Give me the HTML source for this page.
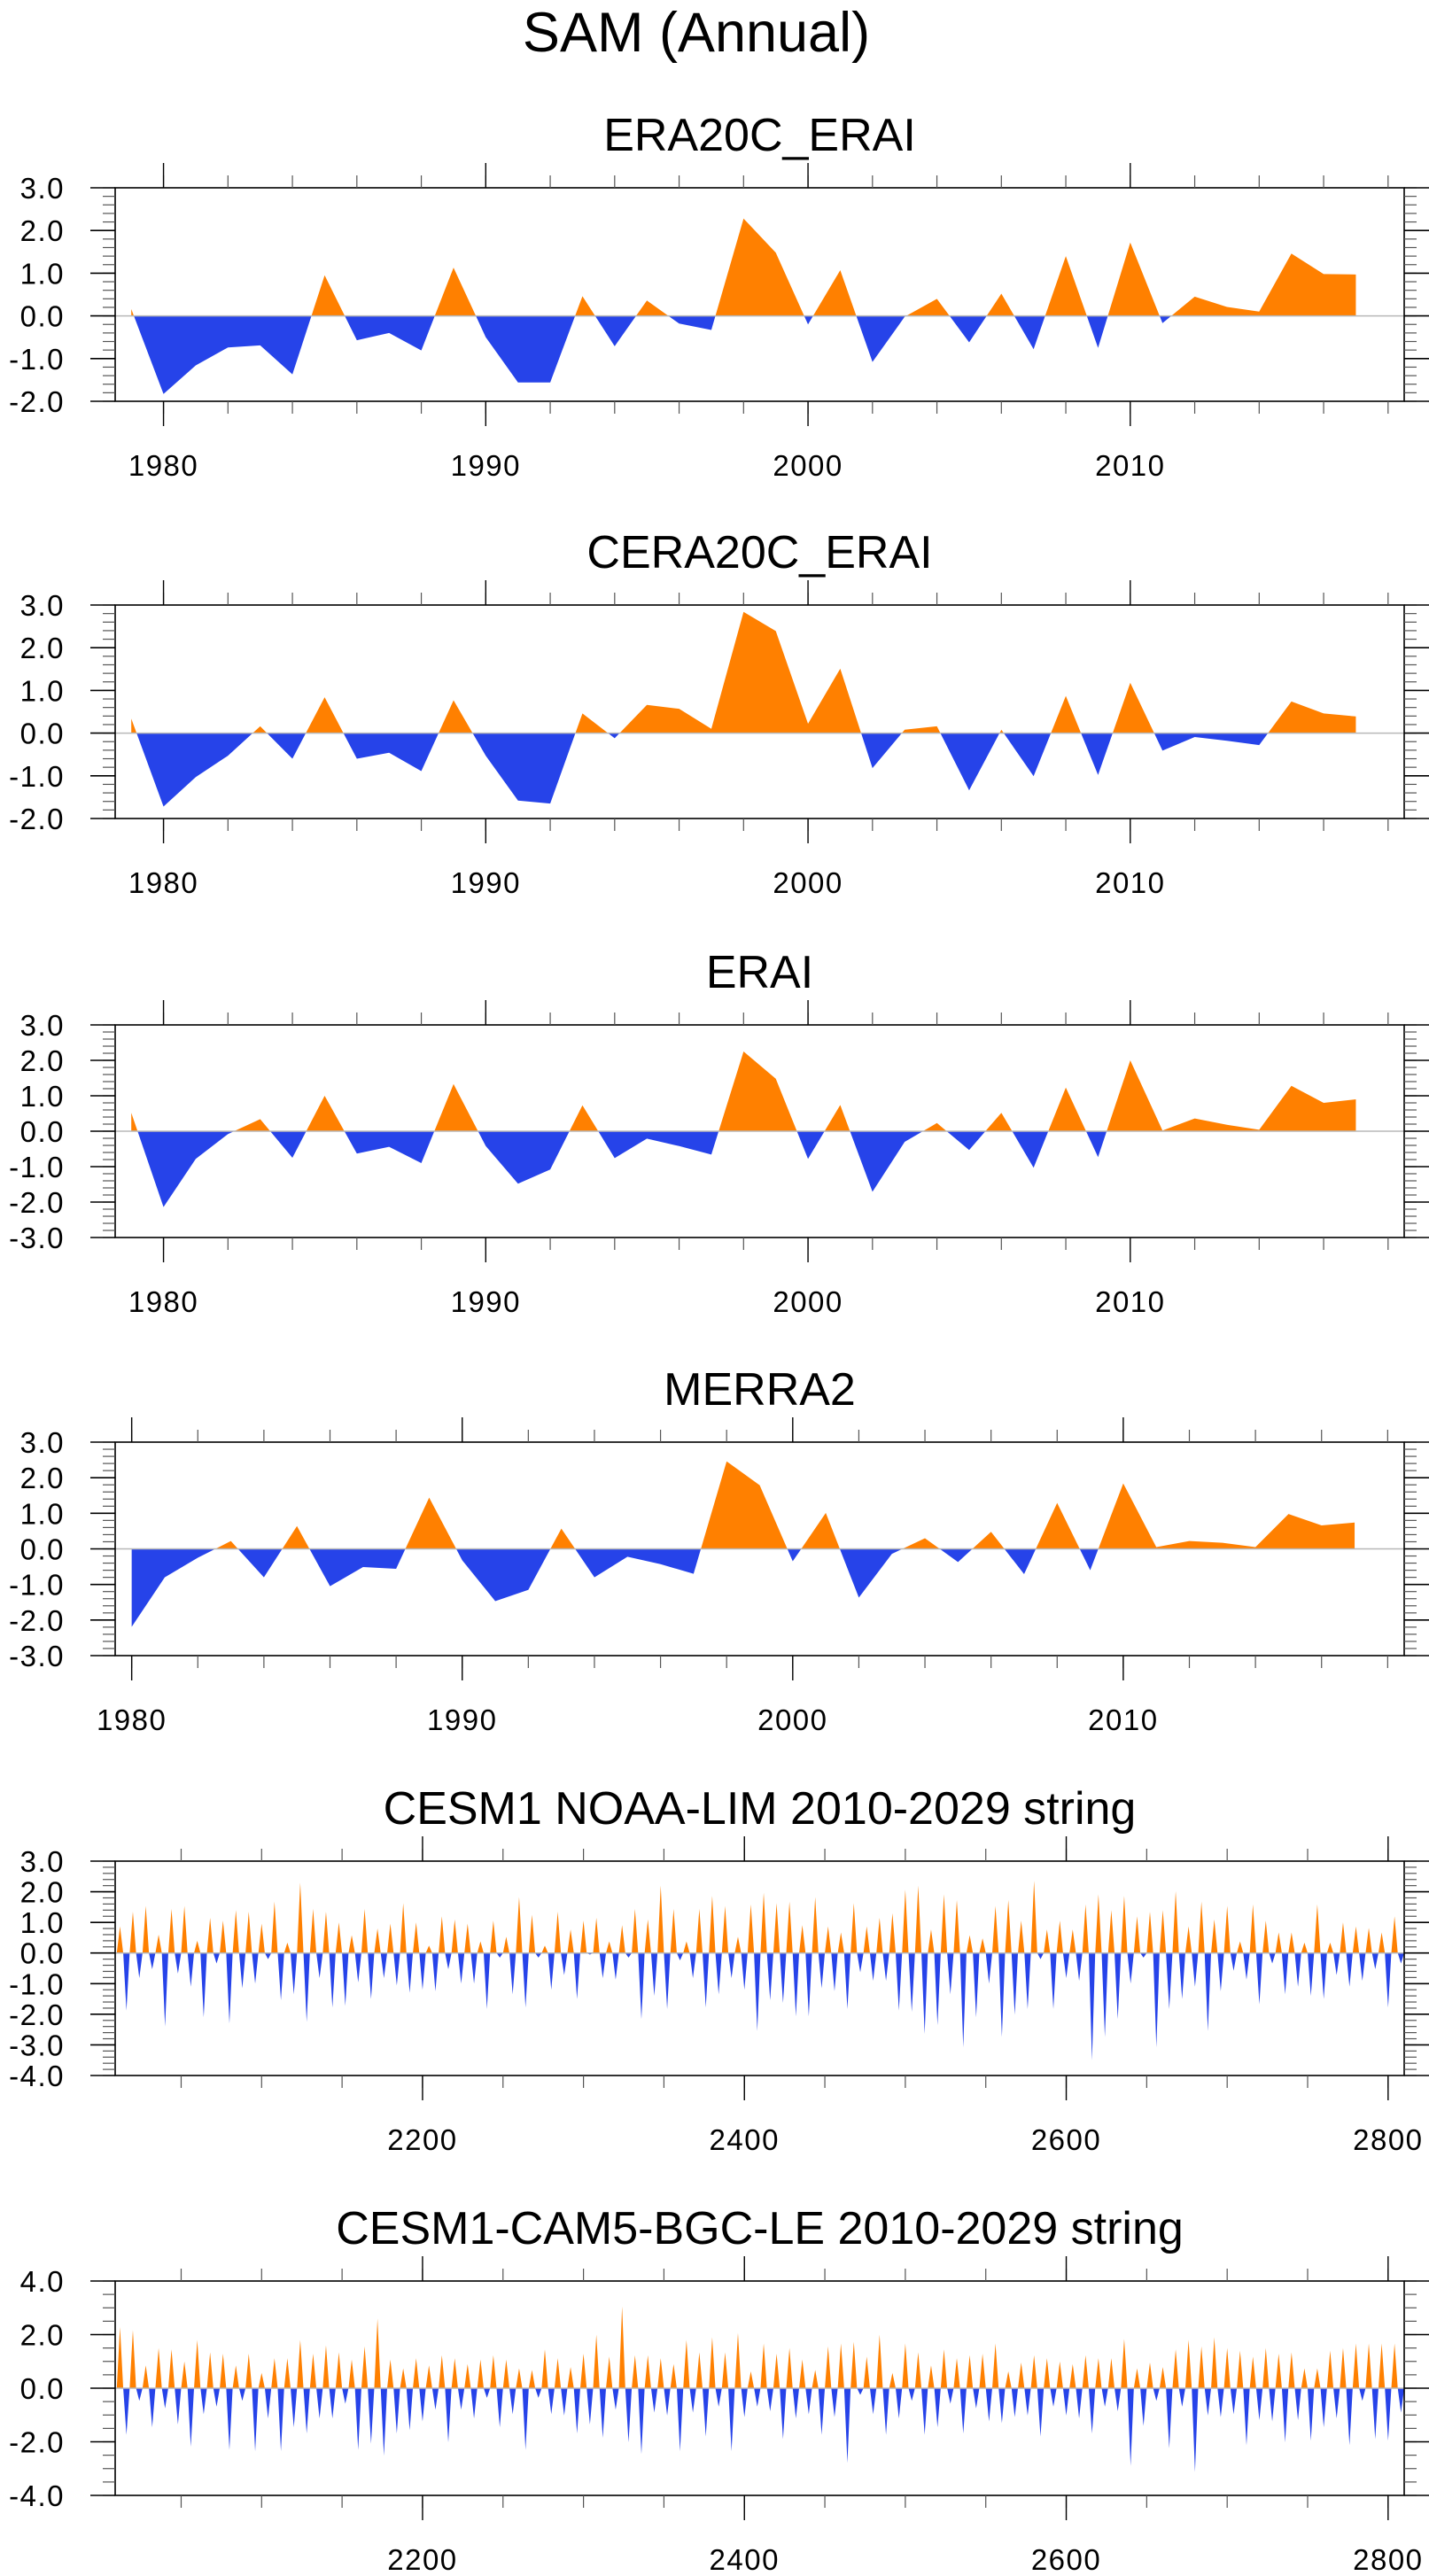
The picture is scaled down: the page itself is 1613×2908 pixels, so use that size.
<!DOCTYPE html>
<html><head><meta charset="utf-8"><style>
html,body{margin:0;padding:0;background:#fff;}
svg{display:block;}
text{font-family:"Liberation Sans",Arial,sans-serif;fill:#000;}
</style></head><body>
<svg id="fig" width="1613" height="2908" viewBox="0 0 1613 2908" xmlns="http://www.w3.org/2000/svg">
<rect x="0" y="0" width="1613" height="2908" fill="#fff"/>
<text x="786" y="58" font-size="63" text-anchor="middle">SAM (Annual)</text>
</svg>
<script>
// ---- data ----
const yearsA = [];
for (let y = 1979; y <= 2017; y++) yearsA.push(y);
const yearsM = [];
for (let y = 1980; y <= 2017; y++) yearsM.push(y);
const era20c = [0.16,-1.83,-1.16,-0.74,-0.69,-1.37,0.95,-0.57,-0.40,-0.81,1.13,-0.5,-1.56,-1.56,0.46,-0.71,0.36,-0.18,-0.33,2.28,1.48,-0.2,1.07,-1.08,-0.02,0.4,-0.62,0.52,-0.78,1.4,-0.75,1.72,-0.17,0.45,0.21,0.1,1.46,0.98,0.97];
const cera20c = [0.34,-1.72,-1.03,-0.53,0.16,-0.6,0.84,-0.6,-0.46,-0.89,0.77,-0.53,-1.58,-1.65,0.46,-0.12,0.66,0.57,0.1,2.84,2.39,0.22,1.51,-0.82,0.08,0.16,-1.34,0.08,-1.01,0.87,-0.98,1.18,-0.41,-0.09,-0.18,-0.28,0.74,0.46,0.39];
const erai = [0.52,-2.14,-0.78,-0.08,0.34,-0.75,1.0,-0.63,-0.44,-0.9,1.33,-0.42,-1.48,-1.08,0.73,-0.76,-0.21,-0.42,-0.66,2.25,1.48,-0.78,0.74,-1.71,-0.3,0.23,-0.53,0.52,-1.03,1.23,-0.73,2.0,0.02,0.36,0.18,0.04,1.28,0.8,0.9];
const merra2 = [-2.19,-0.8,-0.25,0.22,-0.8,0.64,-1.05,-0.51,-0.56,1.44,-0.32,-1.47,-1.15,0.57,-0.8,-0.22,-0.43,-0.7,2.46,1.79,-0.35,1.01,-1.37,-0.14,0.3,-0.37,0.48,-0.71,1.29,-0.6,1.84,0.05,0.22,0.17,0.05,0.98,0.66,0.74];
const limPos = [0.87,1.35,1.54,0.6,1.44,1.54,0.4,1.15,1.06,1.4,1.35,0.96,1.68,0.34,2.3,1.44,1.35,1.0,0.58,1.44,0.8,0.96,1.63,1.0,0.24,1.2,1.1,0.96,0.38,1.06,0.53,1.83,1.25,0.24,1.35,0.77,1.06,1.15,0.38,0.91,1.44,1.1,2.2,1.44,0.38,1.44,1.87,1.54,0.53,1.59,
1.97,1.63,1.68,0.91,1.83,0.87,0.67,1.63,0.87,1.15,1.3,2.07,2.2,0.77,1.92,1.73,0.58,0.48,1.54,1.73,1.06,2.36,0.77,1.06,0.77,1.59,1.92,1.4,1.87,1.2,1.35,1.4,2.02,0.87,1.68,1.1,1.54,0.38,1.59,1.06,0.67,0.67,0.34,1.59,0.34,1.0,0.87,0.82,0.67,1.2];
const limNeg = [-1.88,-0.82,-0.53,-2.4,-0.67,-1.1,-2.1,-0.34,-2.3,-1.15,-1.0,-0.2,-1.54,-1.35,-2.25,-0.82,-1.78,-1.73,-0.96,-1.5,-0.82,-1.06,-1.3,-1.2,-1.25,-0.53,-1.0,-1.0,-1.83,-0.15,-1.35,-1.78,-0.15,-1.2,-0.72,-1.5,-0.05,-0.82,-0.87,-0.15,-2.16,-1.4,-1.83,-0.24,-0.82,-1.78,-1.35,-0.82,-1.2,-2.55,
-1.54,-1.63,-2.07,-2.07,-1.15,-1.25,-1.83,-0.63,-0.91,-0.91,-1.88,-1.92,-2.64,-2.36,-1.35,-3.08,-2.1,-1.0,-2.74,-2.02,-1.83,-0.2,-1.83,-0.82,-0.91,-3.5,-2.74,-2.16,-1.0,-0.15,-3.08,-1.83,-1.5,-1.1,-2.55,-1.25,-0.58,-0.87,-1.68,-0.34,-1.35,-1.1,-1.4,-1.5,-0.72,-1.1,-0.91,-0.53,-1.78,-0.34];
const bgcPos = [2.28,2.17,0.85,1.5,1.45,1.0,1.8,1.34,1.29,0.85,1.29,0.57,1.12,1.12,1.8,1.29,1.6,1.34,1.07,1.56,2.6,1.07,0.74,1.12,0.85,1.23,1.12,0.9,1.07,1.23,1.07,0.74,0.68,1.45,1.12,0.79,1.29,2.0,1.18,3.05,1.23,1.23,1.12,0.9,1.8,1.34,1.9,1.34,2.06,0.63,
1.67,1.29,1.5,1.07,0.68,1.56,1.67,1.73,1.18,2.0,0.57,1.67,1.34,0.85,1.45,1.12,1.23,1.29,1.67,0.63,0.96,1.23,1.12,1.0,0.9,1.23,1.12,1.12,1.84,0.74,0.96,0.79,1.45,1.8,1.56,1.9,1.5,1.4,1.18,1.5,1.29,1.34,0.74,0.74,1.4,1.5,1.67,1.67,1.67,1.67];
const bgcNeg = [-1.74,-0.47,-1.46,-0.75,-1.35,-2.18,-0.97,-0.69,-2.3,-0.47,-2.35,-1.13,-2.35,-1.46,-1.69,-1.13,-1.13,-0.58,-2.3,-2.07,-2.52,-1.69,-1.57,-1.24,-0.8,-2.02,-0.8,-1.13,-0.36,-1.46,-0.97,-2.3,-0.36,-0.97,-1.02,-1.69,-1.35,-1.85,-0.8,-2.02,-2.46,-0.91,-1.02,-2.35,-0.91,-1.8,-0.69,-2.35,-1.08,-0.69,
-0.86,-1.9,-1.13,-0.97,-1.74,-1.08,-2.79,-0.25,-0.97,-1.74,-1.13,-0.47,-1.74,-1.46,-0.58,-1.69,-0.75,-1.24,-1.3,-1.08,-1.02,-1.8,-0.69,-1.02,-1.13,-1.69,-0.69,-0.86,-2.9,-1.41,-0.47,-2.24,-0.69,-3.13,-1.02,-1.08,-0.97,-2.13,-1.19,-1.24,-2.02,-1.19,-1.96,-1.46,-1.13,-2.13,-0.47,-1.9,-1.96,-0.91];
const binStart = 2010, binYears = 8;

// ---- drawing ----
const NS = 'http://www.w3.org/2000/svg';
const svg = document.getElementById('fig');
const ORANGE = '#ff8000', BLUE = '#2643e9';
function el(tag, attrs, parent) {
  const e = document.createElementNS(NS, tag);
  for (const k in attrs) e.setAttribute(k, attrs[k]);
  (parent || svg).appendChild(e);
  return e;
}
function fmt(v){ return (Math.abs(v) < 1e-9 ? 0 : v).toFixed(1); }

function drawPanel(cfg, idx) {
  const L = 130, R = 1585, T = cfg.top, B = cfg.bottom;
  const g = el('g', {});
  
  
  const sx = v => L + (v - cfg.xmin) / (cfg.xmax - cfg.xmin) * (R - L);
  const sy = v => B - (v - cfg.ymin) / (cfg.ymax - cfg.ymin) * (B - T);
  const zy = sy(0);
  const t = el('text', {x: (L + R) / 2, y: T - 42, 'font-size': 52, 'text-anchor': 'middle'}, g);
  t.textContent = cfg.title;
  
  
  let pts = [[cfg.xs[0], 0]];
  for (let i = 0; i < cfg.xs.length; i++) pts.push([cfg.xs[i], cfg.vals[i]]);
  pts.push([cfg.xs[cfg.xs.length - 1], 0]);
  const d = pts.map(p => sx(p[0]).toFixed(2) + ',' + sy(p[1]).toFixed(2)).join(' ');
  const cu = 'clipU' + idx, cd = 'clipD' + idx;
  const defs = el('defs', {}, g);
  const c1 = el('clipPath', {id: cu}, defs); el('rect', {x: L, y: T, width: R - L, height: zy - T}, c1);
  const c2 = el('clipPath', {id: cd}, defs); el('rect', {x: L, y: zy, width: R - L, height: B - zy}, c2);
  const pu = el('polygon', {points: d, fill: ORANGE, 'clip-path': 'url(#' + cu + ')'}, g);
  
  
  const pd = el('polygon', {points: d, fill: BLUE, 'clip-path': 'url(#' + cd + ')'}, g);
  
  
  const zl = el('line', {x1: L, x2: R, y1: zy, y2: zy, stroke: '#b8b8b8', 'stroke-width': 1.5}, g);
  
  
  const fr = el('rect', {x: L, y: T, width: R - L, height: B - T, fill: 'none', stroke: '#000', 'stroke-width': 1.6}, g);
  
  
  const nMin = Math.round((cfg.ymax - cfg.ymin) / cfg.yMinor);
  for (let i = 0; i <= nMin; i++) {
    const v = cfg.ymin + i * cfg.yMinor, y = sy(v);
    el('line', {x1: L - 14, x2: L, y1: y, y2: y, stroke: '#555', 'stroke-width': 1.2}, g);
    el('line', {x1: R, x2: R + 14, y1: y, y2: y, stroke: '#555', 'stroke-width': 1.2}, g);
  }
  for (let v = cfg.ymin; v <= cfg.ymax + 1e-9; v += cfg.yMajor) {
    const y = sy(v);
    el('line', {x1: L - 28, x2: L, y1: y, y2: y, stroke: '#000', 'stroke-width': 1.6}, g);
    el('line', {x1: R, x2: R + 28, y1: y, y2: y, stroke: '#000', 'stroke-width': 1.6}, g);
    const lb = el('text', {x: 73, y: y + 12, 'font-size': 33, 'text-anchor': 'end', 'letter-spacing': 1.5}, g);
    lb.textContent = fmt(v);
    
    
  }
  for (let v = Math.ceil(cfg.xmin / cfg.xMinor) * cfg.xMinor; v <= cfg.xmax; v += cfg.xMinor) {
    const x = sx(v);
    el('line', {x1: x, x2: x, y1: T - 14, y2: T, stroke: '#555', 'stroke-width': 1.2}, g);
    el('line', {x1: x, x2: x, y1: B, y2: B + 14, stroke: '#555', 'stroke-width': 1.2}, g);
  }
  for (const v of cfg.xMajorTicks) {
    const x = sx(v);
    el('line', {x1: x, x2: x, y1: T - 28, y2: T, stroke: '#000', 'stroke-width': 1.4}, g);
    el('line', {x1: x, x2: x, y1: B, y2: B + 28, stroke: '#000', 'stroke-width': 1.4}, g);
    const lb = el('text', {x: x, y: B + 84, 'font-size': 33, 'text-anchor': 'middle', 'letter-spacing': 1.5}, g);
    lb.textContent = String(v);
    
    
  }
}

function spikes(pos, neg) {
  const xs = [], vs = [];
  for (let k = 0; k < pos.length; k++) {
    const b = binStart + k * binYears;
    xs.push(b, b + 2, b + 4, b + 6);
    vs.push(0, pos[k], 0, neg[k]);
  }
  xs.push(binStart + pos.length * binYears);
  vs.push(0);
  return {xs, vs};
}
const lim = spikes(limPos, limNeg);
const bgc = spikes(bgcPos, bgcNeg);

const panels = [
  {name:'era20c-erai', title:'ERA20C_ERAI', top:212, bottom:453, ymin:-2, ymax:3, yMajor:1, yMinor:0.2, xmin:1978.5, xmax:2018.5, xMinor:2, xMajorTicks:[1980,1990,2000,2010], xs:yearsA, vals:era20c},
  {name:'cera20c-erai', title:'CERA20C_ERAI', top:683, bottom:924, ymin:-2, ymax:3, yMajor:1, yMinor:0.2, xmin:1978.5, xmax:2018.5, xMinor:2, xMajorTicks:[1980,1990,2000,2010], xs:yearsA, vals:cera20c},
  {name:'erai', title:'ERAI', top:1157, bottom:1397, ymin:-3, ymax:3, yMajor:1, yMinor:0.2, xmin:1978.5, xmax:2018.5, xMinor:2, xMajorTicks:[1980,1990,2000,2010], xs:yearsA, vals:erai},
  {name:'merra2', title:'MERRA2', top:1628, bottom:1869, ymin:-3, ymax:3, yMajor:1, yMinor:0.2, xmin:1979.5, xmax:2018.5, xMinor:2, xMajorTicks:[1980,1990,2000,2010], xs:yearsM, vals:merra2},
  {name:'cesm1-noaa-lim', title:'CESM1 NOAA-LIM 2010-2029 string', top:2101, bottom:2343, ymin:-4, ymax:3, yMajor:1, yMinor:0.2, xmin:2009, xmax:2810, xMinor:50, xMajorTicks:[2200,2400,2600,2800], xs:lim.xs, vals:lim.vs},
  {name:'cesm1-cam5-bgc-le', title:'CESM1-CAM5-BGC-LE 2010-2029 string', top:2575, bottom:2817, ymin:-4, ymax:4, yMajor:2, yMinor:0.5, xmin:2009, xmax:2810, xMinor:50, xMajorTicks:[2200,2400,2600,2800], xs:bgc.xs, vals:bgc.vs}
];
panels.forEach((p, i) => drawPanel(p, i));
</script>
</body></html>
